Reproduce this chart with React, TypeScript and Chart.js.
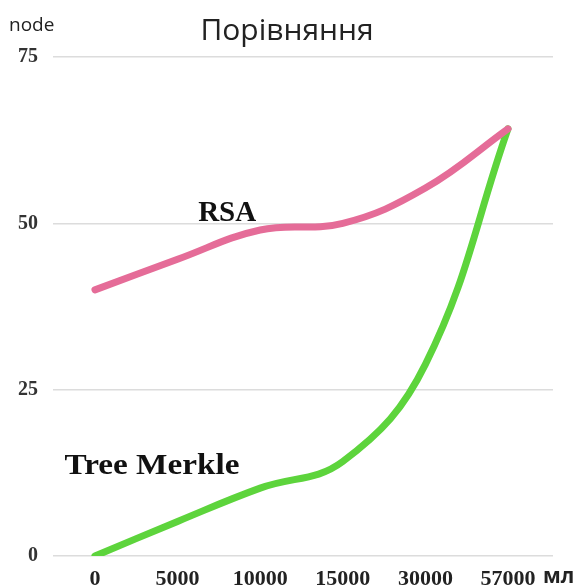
import React, { useEffect, useRef } from "react";
import { Chart, registerables } from "chart.js";

Chart.register(...registerables);

const categories = ["0", "5000", "10000", "15000", "30000", "57000"];
const rsaValues = [40, 44.6, 49, 50, 55.3, 64.2];
const merkleValues = [0, 5.2, 10.2, 14.2, 28.8, 64.2];
const yTicks = [0, 25, 50, 75];
const titleText = "Порівняння";
const yAxisTitle = "node";
const xAxisUnit = "мл";
const rsaLabel = "RSA";
const merkleLabel = "Tree Merkle";

function fitText(ctx: any, text: string, cx: number, cy: number, width: number) {
  const w = ctx.measureText(text).width;
  ctx.save();
  ctx.translate(cx, cy);
  ctx.scale(width / w, 1);
  ctx.textAlign = "center";
  ctx.fillText(text, 0, 0);
  ctx.restore();
}

const textPlugin = {
  id: "texts",
  afterDraw(chart: any) {
    const ctx = chart.ctx;
    const x = chart.scales.x;
    const y = chart.scales.y;
    ctx.save();
    ctx.fillStyle = "#222";
    ctx.textBaseline = "middle";
    ctx.textAlign = "center";
    ctx.font = "30px 'Open Sans', sans-serif";
    ctx.fillText(titleText, 287, 31);
    ctx.textAlign = "left";
    ctx.textBaseline = "alphabetic";
    ctx.font = "19px 'Open Sans', sans-serif";
    ctx.fillText(yAxisTitle, 9, 31);
    ctx.textBaseline = "middle";
    ctx.font = "bold 21px 'Open Sans', sans-serif";
    ctx.fillText(xAxisUnit, 543, 577);
    ctx.fillStyle = "#111";
    ctx.font = "900 29px 'Liberation Serif', serif";
    fitText(ctx, rsaLabel, x.getPixelForValue(1.6), y.getPixelForValue(51.5), 58);
    fitText(ctx, merkleLabel, x.getPixelForValue(0.69), y.getPixelForValue(13.4), 175);
    ctx.restore();
  },
};

export default function App() {
  const ref = useRef<HTMLCanvasElement>(null);
  useEffect(() => {
    const toPoints = (vals: number[]) => vals.map((v, i) => ({ x: i, y: v }));
    const chart = new Chart(ref.current!, {
      type: "line",
      data: {
        datasets: [
          {
            label: rsaLabel,
            data: toPoints(rsaValues),
            borderColor: "#E56C98",
            borderWidth: 7,
            pointRadius: 0,
            tension: 0.4,
            borderCapStyle: "round",
          },
          {
            label: merkleLabel,
            data: toPoints(merkleValues),
            borderColor: "#5DD43C",
            borderWidth: 7,
            pointRadius: 0,
            tension: 0.4,
            borderCapStyle: "round",
          },
        ],
      },
      options: {
        responsive: false,
        animation: false,
        layout: { padding: { top: 57, left: 0, right: 29, bottom: 0 } },
        plugins: { legend: { display: false }, title: { display: false }, tooltip: { enabled: false } },
        scales: {
          x: {
            type: "linear",
            min: -0.508,
            max: 5.545,
            afterBuildTicks(scale: any) {
              scale.ticks = categories.map((_, i) => ({ value: i }));
            },
            grid: { display: false, drawTicks: false },
            border: { display: false },
            ticks: {
              padding: 10,
              color: "#222",
              font: { family: "'Liberation Serif', serif", size: 22, weight: "bold" },
              maxRotation: 0,
              autoSkip: false,
              callback: (v: any) => categories[Math.round(Number(v))] ?? "",
            },
            afterFit(scale: any) {
              scale.height = 32;
            },
          },
          y: {
            min: 0,
            max: 75,
            afterBuildTicks(scale: any) {
              scale.ticks = yTicks.map((v) => ({ value: v }));
            },
            grid: { color: "#dcdcdc", drawTicks: false, lineWidth: 1.5 },
            border: { display: false },
            ticks: {
              padding: 15,
              color: "#333",
              font: { family: "'Liberation Serif', serif", size: 20, weight: "bold" },
            },
            afterFit(scale: any) {
              scale.width = 53;
            },
          },
        },
      },
      plugins: [textPlugin],
    } as any);
    return () => chart.destroy();
  }, []);
  return (
    <div style={{ position: "fixed", left: 0, top: 0, width: 582, height: 588, background: "#fff" }}>
      <canvas ref={ref} width={582} height={588} />
    </div>
  );
}
